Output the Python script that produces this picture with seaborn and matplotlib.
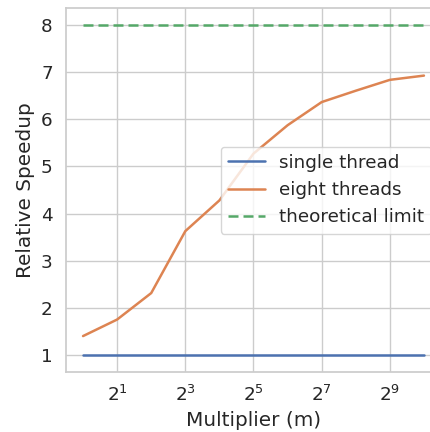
import numpy as np
import pandas as pd
import matplotlib
matplotlib.use("Agg")
import matplotlib.pyplot as plt
import seaborn as sns

# Multiplier values (powers of two) and measured relative speedups
multiplier = [1, 2, 4, 8, 16, 32, 64, 128, 256, 512, 1024]
single_thread = [1, 1, 1, 1, 1, 1, 1, 1, 1, 1, 1]
eight_threads = [1.41, 1.76, 2.32, 3.63, 4.28, 5.27, 5.87, 6.36, 6.60, 6.83, 6.92]
theoretical_limit = [8, 8, 8, 8, 8, 8, 8, 8, 8, 8, 8]

sns.set_theme(style="whitegrid", font_scale=1.2)

df = pd.DataFrame({
    "m": multiplier * 3,
    "speedup": single_thread + eight_threads + theoretical_limit,
    "series": (["single thread"] * len(multiplier)
               + ["eight threads"] * len(multiplier)
               + ["theoretical limit"] * len(multiplier)),
})

fig = plt.figure(figsize=(4.31, 4.32), dpi=100)
ax = fig.add_axes([66 / 431, 1 - 372 / 432, 375 / 431, 364 / 432])

sns.lineplot(data=df, x="m", y="speedup", hue="series", style="series",
             dashes={"single thread": "", "eight threads": "",
                     "theoretical limit": (4, 2)},
             ax=ax, linewidth=1.8)

ax.set_xscale("log", base=2)
ax.set_xticks([2, 8, 32, 128, 512])
ax.set_xticklabels([r"$2^{1}$", r"$2^{3}$", r"$2^{5}$", r"$2^{7}$", r"$2^{9}$"])
ax.minorticks_off()
ax.set_yticks(range(1, 9))
ax.set_xlabel("Multiplier (m)")
ax.set_ylabel("Relative Speedup")
ax.legend(loc="center right", title=None)

fig.savefig("out.png", dpi=100)
